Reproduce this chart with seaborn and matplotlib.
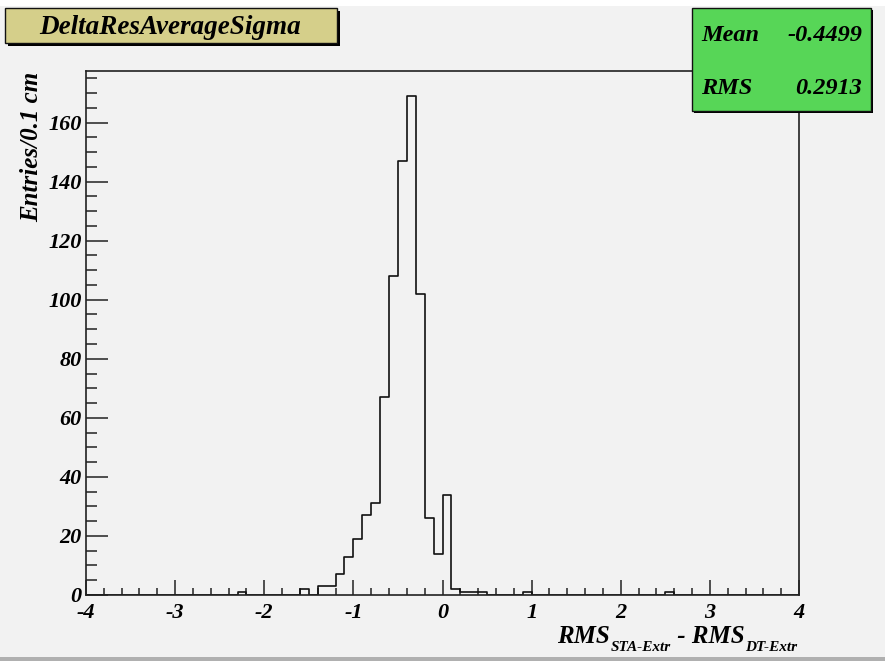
import numpy as np
import pandas as pd
import seaborn as sns
import matplotlib
matplotlib.use("Agg")
import matplotlib.pyplot as plt
from matplotlib.patches import Rectangle
from matplotlib.ticker import MultipleLocator

# Histogram content: lower bin edge and entries (bins of 0.1 cm on [-4, 4])
bin_lo = [-2.3, -1.6, -1.4, -1.3, -1.2, -1.1, -1.0, -0.9, -0.8, -0.7, -0.6, -0.5,
          -0.4, -0.3, -0.2, -0.1, 0.0, 0.1, 0.2, 0.3, 0.4, 0.9, 2.5]
counts = [1, 2, 3, 3, 7, 13, 19, 27, 31, 67, 108, 147,
          169, 102, 26, 14, 34, 2, 1, 1, 1, 1, 1]
x_range = [-4.0, 4.0]
bin_width = 0.1

title = "DeltaResAverageSigma"
stat_names = ["Mean", "RMS"]
stat_values = ["-0.4499", "0.2913"]
y_title = "Entries/0.1 cm"
# x title pieces: (text, is_subscript)
x_title = [("RMS", False), ("STA-Extr", True), (" - RMS", False), ("DT-Extr", True)]

sns.set_theme(style="white")
plt.rcParams["font.family"] = ["Liberation Serif", "DejaVu Serif"]
plt.rcParams["axes.unicode_minus"] = False
for k in ["text.color", "axes.labelcolor", "xtick.color", "ytick.color"]:
    plt.rcParams[k] = "black"

W, H = 885, 664
bg = "#f2f2f2"
fig = plt.figure(figsize=(W / 100, H / 100), dpi=100, facecolor=bg)
FONT = dict(fontweight="bold", fontstyle="italic", color="black")

def fx(px):
    return px / W

def fy(py):
    return 1 - py / H

# top white strip and bottom frame line of the canvas
fig.patches.append(Rectangle((0, fy(6)), 1, fy(0) - fy(6), transform=fig.transFigure,
                             facecolor="white", edgecolor="none", zorder=0))
fig.patches.append(Rectangle((0, fy(661)), 1, fy(657) - fy(661), transform=fig.transFigure,
                             facecolor="#b0b0b0", edgecolor="none", zorder=0))
fig.patches.append(Rectangle((0, 0), 1, fy(661), transform=fig.transFigure,
                             facecolor="white", edgecolor="none", zorder=0))

left, right, top, bottom = 86, 799, 71, 595
ax = fig.add_axes([fx(left), fy(bottom), fx(right) - fx(left), fy(top) - fy(bottom)])
ax.set_facecolor(bg)

df = pd.DataFrame({"center": np.array(bin_lo) + bin_width / 2,
                   "entries": np.array(counts, dtype=float)})
sns.histplot(data=df, x="center", weights="entries", binwidth=bin_width,
             binrange=tuple(x_range), element="step", fill=False,
             color="#111111", linewidth=1.2, ax=ax)

ax.set_xlim(*x_range)
ax.set_ylim(0, max(counts) * 1.05)
ax.set_xlabel("")
ax.set_ylabel("")

for s in ax.spines.values():
    s.set_color("#222222")
    s.set_linewidth(1.2)

ax.xaxis.set_major_locator(MultipleLocator(1))
ax.xaxis.set_minor_locator(MultipleLocator(0.2))
ax.yaxis.set_major_locator(MultipleLocator(20))
ax.yaxis.set_minor_locator(MultipleLocator(5))
ax.tick_params(axis="x", which="major", direction="in", length=11, width=1.1,
               color="#222222", pad=6, labelsize=16)
ax.tick_params(axis="x", which="minor", direction="in", length=5, width=1.1, color="#222222")
ax.tick_params(axis="y", which="major", direction="in", length=16, width=1.1,
               color="#222222", pad=3, labelsize=16)
ax.tick_params(axis="y", which="minor", direction="in", length=8, width=1.1, color="#222222")
ax.tick_params(bottom=True, left=True, which="both")
for lab in ax.get_xticklabels() + ax.get_yticklabels():
    lab.set_fontweight("bold")
    lab.set_fontstyle("italic")

fig.text(fx(32), fy(72), y_title, rotation=90, ha="center", va="top",
         fontsize=18, **FONT)

# x title assembled from main and subscript pieces, right-aligned to the frame
renderer = fig.canvas.get_renderer()
pieces = []
xpos = 0.0
for txt, sub in x_title:
    size = 11 if sub else 18
    ypix = 651 if sub else 643
    t = fig.text(fx(xpos), fy(ypix), txt, ha="left", va="baseline", fontsize=size, **FONT)
    w = t.get_window_extent(renderer).width
    pieces.append((t, xpos))
    xpos += w + (1 if sub else 0)
shift = 798 - xpos
for t, x0 in pieces:
    t.set_x(fx(x0 + shift))

# boxes with drop shadow
def box(x0, y0, x1, y1, color, shadow=3):
    fig.patches.append(Rectangle((fx(x0 + shadow), fy(y1 + shadow)), fx(x1) - fx(x0),
                                 fy(y0) - fy(y1), transform=fig.transFigure,
                                 facecolor="black", edgecolor="none", zorder=5))
    fig.patches.append(Rectangle((fx(x0), fy(y1)), fx(x1) - fx(x0), fy(y0) - fy(y1),
                                 transform=fig.transFigure, facecolor=color,
                                 edgecolor="#111111", linewidth=1.0, zorder=6))

box(5, 8, 337, 43, "#d5cf8a")
fig.text(fx(170), fy(27), title, ha="center", va="center", fontsize=19.5,
         zorder=7, **FONT)

box(692, 8, 871, 111, "#57d657", shadow=2)
for i, (n, v) in enumerate(zip(stat_names, stat_values)):
    yb = 41 + i * 53
    fig.text(fx(701), fy(yb), n, ha="left", va="baseline", fontsize=17.5,
             zorder=7, **FONT)
    fig.text(fx(862), fy(yb), v, ha="right", va="baseline", fontsize=17.5,
             zorder=7, **FONT)

fig.savefig("out.png", dpi=100, facecolor=fig.get_facecolor())
